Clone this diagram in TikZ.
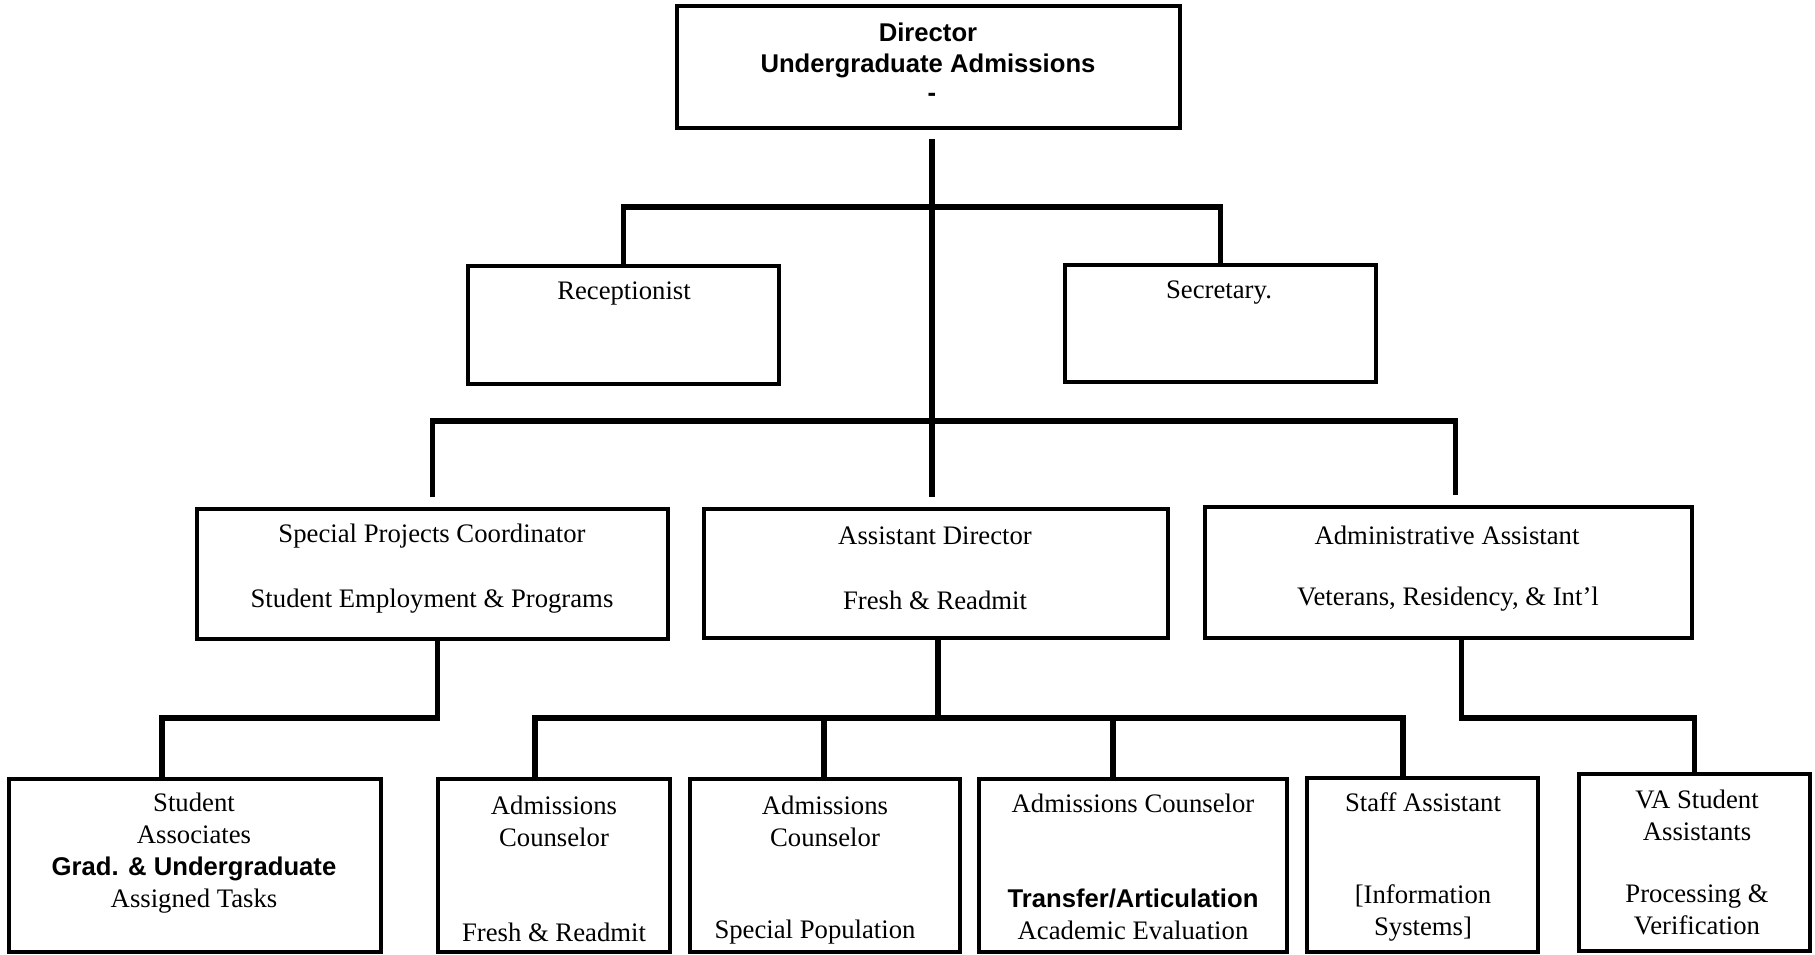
\documentclass[tikz,border=0pt]{standalone}
\usepackage{fontspec}
\setmainfont{Liberation Serif}
\newfontfamily\arialfont{Liberation Sans}
\newcommand{\txtsize}{\fontsize{15.2}{18.2}\selectfont}
\newcommand{\hdfont}{\arialfont\bfseries\fontsize{14.6}{17.8}\selectfont}

\begin{document}
\begin{tikzpicture}[x=0.02cm, y=-0.02cm,
  box/.style={draw, line width=2pt, inner sep=0},
  lbl/.style={inner sep=0, align=center, font=\txtsize},
  hd/.style={inner sep=0, align=center, font=\hdfont},
  link/.style={line width=3.3pt}]
\useasboundingbox (0,0) rectangle (1815,955);
% director, receptionist, secretary
\node[box, minimum width=10.06cm, minimum height=2.44cm] (pid0) at (928.5,67){};
\node[hd] (pid0t) at (928,50.4){Director\\Undergraduate Admissions};
\node[hd] (pid0d) at (932,97){-};
\node[box, minimum width=6.22cm, minimum height=2.36cm] (pid1) at (623.5,325){};
\node[lbl] (pid1t) at (624,294){Receptionist};
\node[box, minimum width=6.22cm, minimum height=2.34cm] (pid2) at (1220.5,323.5){};
\node[lbl] (pid2t) at (1219,293){Secretary.};
% second row
\node[box, minimum width=9.42cm, minimum height=2.60cm] (pid3) at (432.5,574){};
\node[lbl] (pid3a) at (432,536){Special Projects Coordinator};
\node[lbl] (pid3b) at (432,601){Student Employment \& Programs};
\node[box, minimum width=9.28cm, minimum height=2.58cm] (pid4) at (936,573.5){};
\node[lbl] (pid4a) at (935,536){Assistant Director};
\node[lbl] (pid4b) at (935,600){Fresh \& Readmit};
\node[box, minimum width=9.74cm, minimum height=2.62cm] (pid5) at (1448.5,572.5){};
\node[lbl] (pid5a) at (1447,535){Administrative Assistant};
\node[lbl] (pid5b) at (1448,599){Veterans, Residency, \& Int’l};
% bottom row
\node[box, minimum width=7.44cm, minimum height=3.46cm] (pid6) at (195,865.5){};
\node[lbl] (pid6t) at (194,853){Student\\Associates\\{\hdfont Grad. \& Undergraduate}\\Assigned Tasks};
\node[box, minimum width=4.64cm, minimum height=3.46cm] (pid7) at (554,865.5){};
\node[lbl] (pid7a) at (554,821){Admissions\\Counselor};
\node[lbl] (pid7b) at (554,932){Fresh \& Readmit};
\node[box, minimum width=5.40cm, minimum height=3.46cm] (pid8) at (825,865.5){};
\node[lbl] (pid8a) at (825,821){Admissions\\Counselor};
\node[lbl] (pid8b) at (815,932){Special Population};
\node[box, minimum width=6.16cm, minimum height=3.46cm] (pid9) at (1133,865.5){};
\node[lbl] (pid9a) at (1133,803){Admissions Counselor};
\node[lbl] (pid9b) at (1133,914){{\hdfont Transfer/Articulation}\\Academic Evaluation};
\node[box, minimum width=4.62cm, minimum height=3.48cm] (pid10) at (1422.5,865){};
\node[lbl] (pid10a) at (1423,802){Staff Assistant};
\node[lbl] (pid10b) at (1423,912.5){[Information\\Systems]};
\node[box, minimum width=4.62cm, minimum height=3.54cm] (pid11) at (1694.5,862.5){};
\node[lbl] (pid11a) at (1697,815.5){VA Student\\Assistants};
\node[lbl] (pid11b) at (1697,910){Processing \&\\Verification};
% connectors
\coordinate (j0) at (932,207);
\coordinate (j1) at (932,421);
\coordinate (j2) at (162,718);
\coordinate (j3) at (938,718);
\coordinate (j4) at (1694.5,718);
\foreach \x/\n in {535/7, 824/8, 1113/9, 1403/10}
  \coordinate (d\n) at (\x,718);
\draw[link, shorten <=0.18cm, shorten >=0.2cm] ([xshift=0.07cm]pid0.south) -- ([xshift=0.07cm]pid0.south |- pid4.north);
\draw[link] (pid1.north) |- (j0) -| (pid2.north);
\draw[link, shorten <=0.2cm, shorten >=0.2cm] (pid3.north) |- (j1) -| ([xshift=0.14cm]pid5.north);
\draw[link] ([xshift=0.1cm]pid3.south) |- (j2) -- (j2 |- pid6.north);
\draw[link] (pid4.south -| j3) -- (j3);
\draw[link] (d7 |- pid7.north) -- (d7) -- (d10) -- (d10 |- pid10.north);
\draw[link] (d8) -- (d8 |- pid8.north);
\draw[link] (d9) -- (d9 |- pid9.north);
\draw[link] ([xshift=0.26cm]pid5.south) |- (j4) -- (j4 |- pid11.north);
\end{tikzpicture}
\end{document}
